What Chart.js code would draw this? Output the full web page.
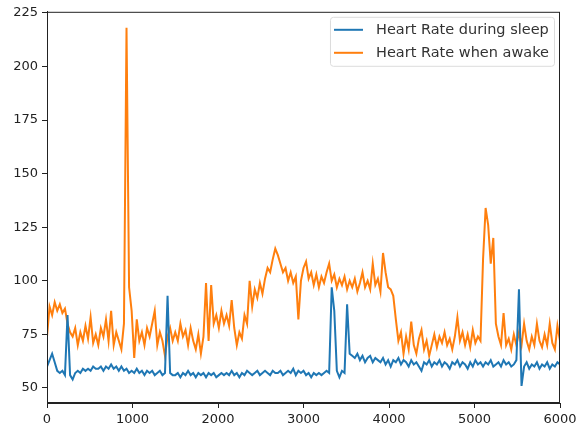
<!DOCTYPE html>
<html>
<head>
<meta charset="utf-8">
<script src="https://cdn.jsdelivr.net/npm/chart.js@4"></script>
<style>
  html, body { margin: 0; padding: 0; background: #fff; }
  #wrap { width: 584px; height: 434px; }
</style>
</head>
<body>
<div id="wrap"><canvas id="hrChart" width="584" height="434"></canvas></div>
<script>
// sample spacing along the x axis (one value every 30 samples)
var step = 30;

// heart rate while awake, x = 0, 30, 60 ... 6000
var awake = [
  74, 88, 84, 90, 86, 89, 85, 87, 80, 76,
  74, 78, 70, 76, 72, 79, 73, 83, 71, 75,
  70, 78, 74, 82, 72, 86, 70, 76, 72, 68,
  80, 218, 97, 86, 64, 82, 72, 76, 70, 78,
  74, 80, 86, 70, 76, 72, 65, 74, 78, 72,
  76, 72, 80, 74, 77, 70, 78, 72, 68, 75,
  66, 74, 99, 72, 98, 80, 84, 78, 86, 80,
  84, 79, 91, 78, 70, 76, 73, 84, 80, 100,
  88, 96, 92, 99, 94, 101, 106, 104, 110, 115,
  112, 108, 104, 106, 100, 104, 99, 102, 82, 100,
  106, 109, 101, 104, 98, 103, 97, 102, 99, 104,
  108, 100, 103, 97, 101, 98, 102, 96, 100, 97,
  101, 95, 99, 104, 97, 100, 96, 108, 98, 101,
  95, 113, 104, 97, 96, 93, 82, 72, 76, 66,
  74, 68, 81, 70, 66, 73, 77, 68, 72, 65,
  70, 75, 69, 74, 71, 76, 70, 73, 68, 74,
  83, 72, 76, 70, 75, 69, 77, 71, 74, 72,
  110, 134, 126, 108, 120, 80, 74, 70, 85, 70,
  73, 68, 75, 70, 76, 70, 80, 72, 68, 74,
  70, 80, 72, 69, 75, 70, 80, 71, 68, 79,
  72
];

// heart rate during sleep, same x positions
var sleep = [
  60, 63, 66, 62, 58, 57, 58, 56, 84, 56,
  54, 57, 58, 57, 59, 58, 59, 58, 60, 59,
  59, 60, 58, 60, 59, 61, 59, 60, 58, 60,
  58, 59, 57, 58, 57, 59, 57, 58, 56, 58,
  57, 58, 56, 57, 58, 56, 57, 93, 57, 56,
  56, 57, 55, 57, 56, 58, 56, 57, 55, 57,
  56, 57, 55, 57, 56, 57, 55, 56, 57, 56,
  57, 56, 58, 56, 57, 55, 57, 56, 58, 57,
  56, 57, 58, 56, 57, 58, 57, 56, 58, 57,
  57, 58, 56, 57, 58, 57, 59, 56, 58, 57,
  58, 56, 57, 55, 57, 56, 57, 56, 57, 58,
  57, 97, 86, 58, 55, 58, 57, 89, 66, 65,
  64, 66, 63, 65, 62, 64, 65, 62, 64, 63,
  62, 64, 61, 63, 60, 63, 62, 64, 61, 63,
  62, 60, 63, 61, 62, 60, 58, 62, 61, 63,
  60, 62, 61, 63, 60, 62, 61, 59, 62, 61,
  63, 60, 62, 61, 59, 62, 60, 63, 61, 62,
  60, 62, 61, 63, 60, 61, 62, 60, 63, 61,
  62, 60, 61, 63, 96, 51, 60, 62, 59, 61,
  60, 62, 59, 61, 60, 62, 59, 61, 60, 62,
  61
];

var xTicks = [0, 1000, 2000, 3000, 4000, 5000, 6000];
var yTicks = [50, 75, 100, 125, 150, 175, 200, 225];

function toPoints(arr) {
  return arr.map(function (v, i) { return { x: i * step, y: v }; });
}

// box round the plot plus a matplotlib-like legend in the upper right
var frameLegend = {
  id: 'frameLegend',
  afterDraw: function (chart) {
    var ctx = chart.ctx, a = chart.chartArea;
    ctx.save();
    ctx.strokeStyle = '#222';
    ctx.lineWidth = 1;
    ctx.strokeRect(a.left + 0.5, a.top + 0.5, a.right - a.left - 1, a.bottom - a.top - 1);

    ctx.font = '14.5px "DejaVu Sans"';
    var sets = chart.data.datasets;
    var tw = 0;
    sets.forEach(function (d) { tw = Math.max(tw, ctx.measureText(d.label).width); });
    var right = a.right - 6, top = a.top + 5;
    var w = tw + 51, h = 49;
    var left = right - w;
    ctx.fillStyle = 'rgba(255,255,255,0.85)';
    ctx.strokeStyle = '#dcdcdc';
    ctx.beginPath();
    ctx.roundRect(left + 0.5, top + 0.5, w, h, 3);
    ctx.fill();
    ctx.stroke();
    ctx.textBaseline = 'middle';
    sets.forEach(function (d, i) {
      var cy = top + 13 + i * 23;
      ctx.strokeStyle = d.borderColor;
      ctx.lineWidth = 2;
      ctx.beginPath();
      ctx.moveTo(left + 4, cy);
      ctx.lineTo(left + 33, cy);
      ctx.stroke();
      ctx.fillStyle = '#333';
      ctx.fillText(d.label, left + 46, cy);
    });
    ctx.restore();
  }
};

new Chart(document.getElementById('hrChart'), {
  type: 'line',
  data: {
    datasets: [{
      label: 'Heart Rate during sleep',
      data: toPoints(sleep),
      borderColor: '#1f77b4',
      borderWidth: 2,
      pointRadius: 0,
      tension: 0
    }, {
      label: 'Heart Rate when awake',
      data: toPoints(awake),
      borderColor: '#ff7f0e',
      borderWidth: 2,
      pointRadius: 0,
      tension: 0
    }]
  },
  options: {
    responsive: false,
    animation: false,
    layout: { padding: { top: 7, right: 24, left: 0, bottom: 0 } },
    plugins: {
      legend: { display: false },
      tooltip: { enabled: false }
    },
    scales: {
      x: {
        type: 'linear',
        min: 0,
        max: 6000,
        afterBuildTicks: function (s) { s.ticks = xTicks.map(function (v) { return { value: v }; }); },
        afterFit: function (s) { s.height = 31; },
        grid: { drawOnChartArea: false, tickLength: 5, color: '#222' },
        border: { color: '#222' },
        ticks: {
          padding: 4,
          maxRotation: 0,
          color: '#222',
          font: { family: 'DejaVu Sans', size: 13 },
          callback: function (v) { return String(v); }
        }
      },
      y: {
        min: 43,
        max: 225.5,
        afterBuildTicks: function (s) { s.ticks = yTicks.map(function (v) { return { value: v }; }); },
        afterFit: function (s) { s.width = 47; },
        grid: { drawOnChartArea: false, tickLength: 5, color: '#222' },
        border: { color: '#222' },
        ticks: {
          padding: 4,
          color: '#222',
          font: { family: 'DejaVu Sans', size: 13 },
          callback: function (v) { return String(v); }
        }
      }
    }
  },
  plugins: [frameLegend]
});
</script>
</body>
</html>
